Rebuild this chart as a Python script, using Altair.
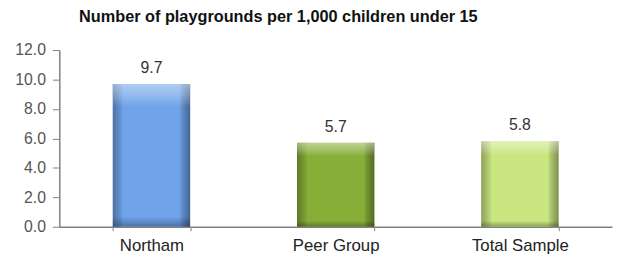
import altair as alt
import pandas as pd

categories = ["Northam", "Peer Group", "Total Sample"]
values = [9.7, 5.7, 5.8]
bar_colors = ["#6fa3ea", "#87ae37", "#c9e680"]
y_ticks = [0, 2, 4, 6, 8, 10, 12]
title_text = "Number of playgrounds per 1,000 children under 15"

df = pd.DataFrame({
    "category": categories,
    "value": values,
    "label": [f"{v:.1f}" for v in values],
})

FONT = "Liberation Sans"

x = alt.X(
    "category:N", sort=categories,
    scale=alt.Scale(paddingInner=0.58, paddingOuter=0.29),
    axis=alt.Axis(title=None, labelAngle=0, labelFontSize=17, labelColor="#222",
                  labelFont=FONT, domainColor="#808080", domainWidth=1.5,
                  tickColor="#808080", tickBand="extent", tickSize=4, labelPadding=7),
)
y = alt.Y(
    "value:Q",
    scale=alt.Scale(domain=[0, 12], nice=False),
    axis=alt.Axis(values=y_ticks, format=".1f", grid=False, title=None,
                  domainColor="#808080", domainWidth=1.5, tickColor="#808080",
                  tickSize=7, labelFontSize=16, labelColor="#555", labelFont=FONT,
                  labelPadding=7),
)

base = alt.Chart(df)

bars = base.mark_bar().encode(
    x=x, y=y,
    color=alt.Color("category:N", scale=alt.Scale(domain=categories, range=bar_colors), legend=None),
)

side_shade = base.mark_bar(
    color=alt.Gradient(
        gradient="linear", x1=0, x2=1, y1=0, y2=0,
        stops=[
            alt.GradientStop(color="rgba(0,0,0,0.30)", offset=0),
            alt.GradientStop(color="rgba(0,0,0,0.10)", offset=0.1),
            alt.GradientStop(color="rgba(0,0,0,0.0)", offset=0.14),
            alt.GradientStop(color="rgba(0,0,0,0.0)", offset=0.86),
            alt.GradientStop(color="rgba(0,0,0,0.15)", offset=0.9),
            alt.GradientStop(color="rgba(0,0,0,0.38)", offset=1),
        ],
    )
).encode(x=x, y=y)

top_shade = base.mark_bar(
    color=alt.Gradient(
        gradient="linear", x1=0, x2=0, y1=0, y2=1,
        stops=[
            alt.GradientStop(color="rgba(255,255,255,0.45)", offset=0),
            alt.GradientStop(color="rgba(255,255,255,0.25)", offset=0.08),
            alt.GradientStop(color="rgba(255,255,255,0.0)", offset=0.16),
            alt.GradientStop(color="rgba(0,0,0,0.0)", offset=0.93),
            alt.GradientStop(color="rgba(0,0,0,0.3)", offset=1),
        ],
    )
).encode(x=x, y=y)

labels = base.mark_text(dy=-8, baseline="bottom", fontSize=16, color="#333", font=FONT).encode(
    x=x, y=y, text="label:N"
)

chart = (
    alt.layer(bars, side_shade, top_shade, labels)
    .properties(
        width=560, height=179,
        autosize=alt.AutoSizeParams(type="none"),
        padding={"left": 52, "top": 41, "right": 4, "bottom": 26},
        title=alt.TitleParams(title_text, fontSize=16.5, fontWeight="bold", font=FONT,
                              anchor="start", frame="group", dx=20, offset=17, color="#111"),
    )
    .configure_view(stroke=None)
)

chart.save("out.html", embed_options={"renderer": "svg", "actions": False})
